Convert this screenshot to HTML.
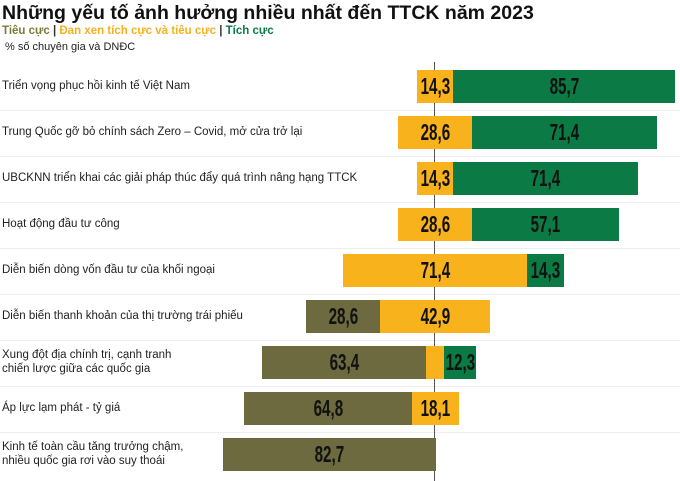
<!DOCTYPE html><html><head><meta charset="utf-8"><style>
body{margin:0;width:680px;height:481px;background:#fff;font-family:"Liberation Sans",sans-serif;position:relative;overflow:hidden}
.a{position:absolute}
.lbl{position:absolute;left:2px;font-size:11.5px;color:#222;line-height:14px}
.b{position:absolute;height:33px;display:flex;align-items:center;justify-content:center;font-weight:bold;font-size:23px;color:#111}
.b span{display:inline-block;transform:scaleX(0.66)}
.o{background:#F8B21C}.g{background:#0B7A45}.v{background:#6C6A3E}
.sep{position:absolute;left:0;width:680px;height:1px;background:#eee}
</style></head><body>
<div class="a" style="left:2px;top:2px;font-size:19.5px;font-weight:bold;color:#111">Những yếu tố ảnh hưởng nhiều nhất đến TTCK năm 2023</div>
<div class="a" style="left:2px;top:25px;font-size:11.5px;font-weight:bold"><span style="color:#7a7a3a">Tiêu cực</span> <span style="color:#333">|</span> <span style="color:#F5B020">Đan xen tích cực và tiêu cực</span> <span style="color:#333">|</span> <span style="color:#0B7A45">Tích cực</span></div>
<div class="a" style="left:5px;top:41px;font-size:11px;color:#222">% số chuyên gia và DNĐC</div>
<div class="sep" style="top:110px"></div><div class="sep" style="top:156px"></div><div class="sep" style="top:202px"></div><div class="sep" style="top:248px"></div><div class="sep" style="top:294px"></div><div class="sep" style="top:340px"></div><div class="sep" style="top:386px"></div><div class="sep" style="top:432px"></div>
<div class="a" style="left:434px;top:62px;width:1px;height:419px;background:#555"></div>

<div class="lbl" style="top:79px">Triển vọng phục hồi kinh tế Việt Nam</div>
<div class="b o" style="left:417px;top:70px;width:36px"><span>14,3</span></div>
<div class="b g" style="left:453px;top:70px;width:222px"><span>85,7</span></div>

<div class="lbl" style="top:125px">Trung Quốc gỡ bỏ chính sách Zero – Covid, mở cửa trở lại</div>
<div class="b o" style="left:398px;top:116px;width:74px"><span>28,6</span></div>
<div class="b g" style="left:472px;top:116px;width:185px"><span>71,4</span></div>

<div class="lbl" style="top:171px">UBCKNN triển khai các giải pháp thúc đẩy quá trình nâng hạng TTCK</div>
<div class="b o" style="left:417px;top:162px;width:36px"><span>14,3</span></div>
<div class="b g" style="left:453px;top:162px;width:185px"><span>71,4</span></div>

<div class="lbl" style="top:217px">Hoạt động đầu tư công</div>
<div class="b o" style="left:398px;top:208px;width:74px"><span>28,6</span></div>
<div class="b g" style="left:472px;top:208px;width:147px"><span>57,1</span></div>

<div class="lbl" style="top:263px">Diễn biến dòng vốn đầu tư của khối ngoại</div>
<div class="b o" style="left:343px;top:254px;width:184px"><span>71,4</span></div>
<div class="b g" style="left:527px;top:254px;width:37px"><span>14,3</span></div>

<div class="lbl" style="top:309px">Diễn biến thanh khoản của thị trường trái phiếu</div>
<div class="b v" style="left:306px;top:300px;width:74px"><span>28,6</span></div>
<div class="b o" style="left:380px;top:300px;width:110px"><span>42,9</span></div>

<div class="lbl" style="top:348px">Xung đột địa chính trị, cạnh tranh<br>chiến lược giữa các quốc gia</div>
<div class="b v" style="left:262px;top:346px;width:164px"><span>63,4</span></div>
<div class="b o" style="left:426px;top:346px;width:18px"></div>
<div class="b g" style="left:444px;top:346px;width:32px"><span>12,3</span></div>

<div class="lbl" style="top:401px">Áp lực lạm phát - tỷ giá</div>
<div class="b v" style="left:244px;top:392px;width:168px"><span>64,8</span></div>
<div class="b o" style="left:412px;top:392px;width:47px"><span>18,1</span></div>

<div class="lbl" style="top:440px">Kinh tế toàn cầu tăng trưởng chậm,<br>nhiều quốc gia rơi vào suy thoái</div>
<div class="b v" style="left:223px;top:438px;width:213px"><span>82,7</span></div>
</body></html>
